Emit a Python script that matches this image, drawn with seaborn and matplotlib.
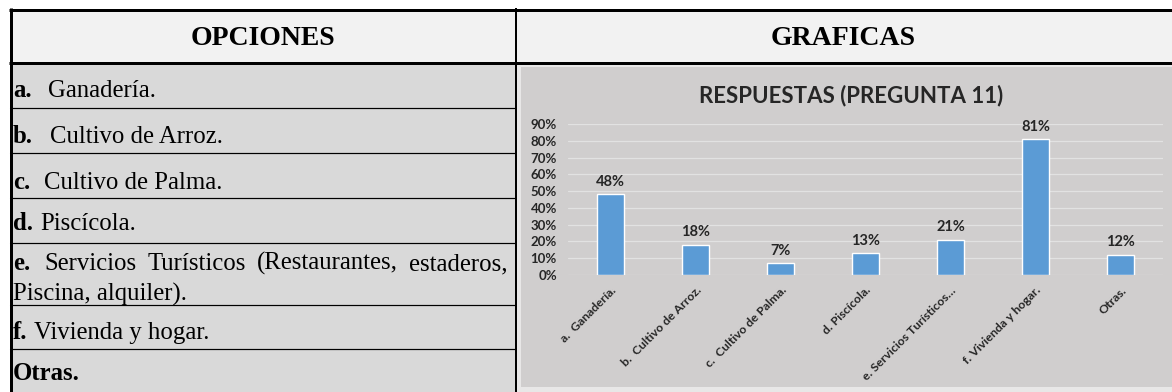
import matplotlib
matplotlib.use("Agg")
import matplotlib.pyplot as plt
import seaborn as sns
import pandas as pd

# Survey answers (question 11)
categorias = ["a.  Ganadería.", "b.  Cultivo de Arroz.", "c.  Cultivo de Palma.",
              "d. Piscícola.", "e. Servicios Turísticos…", "f. Vivienda y hogar.", "Otras."]
porcentajes = [0.48, 0.18, 0.07, 0.13, 0.21, 0.81, 0.12]
y_ticks = [0.0, 0.1, 0.2, 0.3, 0.4, 0.5, 0.6, 0.7, 0.8, 0.9]

# Options column of the table: bold prefix + text lines
opciones_prefijo = ["a.", "b.", "c.", "d.", "e.", "f.", "Otras."]
opciones_texto = ["Ganadería.", "Cultivo de Arroz.", "Cultivo de Palma.", "Piscícola.",
                  "Servicios Turísticos (Restaurantes, estaderos,", "Vivienda y hogar.", ""]
opcion_e_linea2 = "Piscina, alquiler)."
encabezados = ["OPCIONES", "GRAFICAS"]

W, H = 1172, 392
sns.set_theme(style="white")
plt.rcParams["font.family"] = ["Liberation Serif", "DejaVu Serif"]

fig = plt.figure(figsize=(W / 100, H / 100), dpi=100)
fig.patch.set_facecolor("white")

# Table drawn in pixel coordinates (y grows downward)
tab = fig.add_axes([0, 0, 1, 1], zorder=0)
tab.set_xlim(0, W)
tab.set_ylim(H, 0)
tab.axis("off")

def rect(x0, y0, x1, y1, color, z=0):
    tab.add_patch(plt.Rectangle((x0, y0), x1 - x0, y1 - y0, facecolor=color,
                                edgecolor="none", zorder=z))

rect(10, 10, W, 62, "#f2f2f2")
rect(10, 62, 515, H, "#d9d9d9")
rect(516, 63, W, H, "#e8e7e7")
rect(521, 67, W, 387, "#d0cece", z=0.5)

lw_px = lambda px: px * 72 / 100
tab.plot([9, W], [9.5, 9.5], color="black", lw=lw_px(3), solid_capstyle="butt", zorder=3)
tab.plot([10.5, 10.5], [8, H], color="black", lw=lw_px(3), solid_capstyle="butt", zorder=3)
tab.plot([9, W], [62.5, 62.5], color="black", lw=lw_px(3), solid_capstyle="butt", zorder=3)
tab.plot([515.5, 515.5], [8, H], color="black", lw=lw_px(2), solid_capstyle="butt", zorder=3)
for yl in [108, 153, 198, 243, 305, 349]:
    tab.plot([10, 515], [yl, yl], color="black", lw=lw_px(1.2), zorder=3)

tab.text(263, 38, encabezados[0], ha="center", va="center", fontsize=20,
         fontweight="bold", color="black")
tab.text(843, 38, encabezados[1], ha="center", va="center", fontsize=20,
         fontweight="bold", color="black")

fs_row = 17.8
row_y = [97, 143, 189, 230, 270, 339, 380]
# spacing (points) between the bold letter and the option text
row_gap = [12, 12, 10, 5, 10, 5, 0]
fig.canvas.draw()
renderer = fig.canvas.get_renderer()
for i, (pre, txt) in enumerate(zip(opciones_prefijo, opciones_texto)):
    t = tab.text(13, row_y[i], pre, ha="left", va="baseline", fontsize=fs_row,
                 fontweight="bold", color="black")
    if i == 4:
        # justified first line spanning the cell width
        words = txt.split(" ")
        t_bb = t.get_window_extent(renderer)
        x_start = t_bb.x1 + row_gap[i] * 100 / 72
        x_end = 508
        arts = []
        for w in words:
            a = tab.text(0, row_y[i], w, ha="left", va="baseline", fontsize=fs_row,
                         color="black")
            arts.append(a)
        widths = [a.get_window_extent(renderer).width for a in arts]
        gap = (x_end - x_start - sum(widths)) / (len(words) - 1)
        xpos = x_start
        for a, wd in zip(arts, widths):
            a.set_x(xpos)
            xpos += wd + gap
        tab.text(13, row_y[i] + 31, opcion_e_linea2, ha="left", va="baseline",
                 fontsize=fs_row, color="black")
    elif txt:
        tab.annotate(txt, xy=(1, 0), xycoords=t, xytext=(row_gap[i], 0),
                     textcoords="offset points", ha="left", va="bottom",
                     fontsize=fs_row, color="black")

# Bar chart embedded in the right cell
chart_font = ["Lato", "DejaVu Sans"]
left, right, top, bottom = 568, 1163, 124, 275
ax = fig.add_axes([left / W, 1 - bottom / H, (right - left) / W, (bottom - top) / H],
                  zorder=2)
df = pd.DataFrame({"categoria": categorias, "porcentaje": porcentajes})
sns.barplot(data=df, x="categoria", y="porcentaje", color="#5b9bd5", saturation=1,
            width=0.32, ax=ax)
ax.set_facecolor("none")
ax.set_ylim(0, 0.9)
ax.set_yticks(y_ticks)
ax.set_yticklabels([f"{int(round(v * 100))}%" for v in y_ticks],
                   fontsize=9.5, fontweight="bold", family=chart_font, color="#262626")
ax.yaxis.grid(True, color="#e2e2e2", lw=0.9)
ax.set_axisbelow(True)
for s in ax.spines.values():
    s.set_visible(False)
ax.tick_params(axis="y", length=0, pad=8)
ax.tick_params(axis="x", length=0, pad=7)
ax.set_xlabel("")
ax.set_ylabel("")
ax.set_xticks(range(len(categorias)))
ax.set_xticklabels(categorias, rotation=45, ha="right", rotation_mode="anchor",
                   fontsize=8.8, fontweight="bold", family=chart_font, color="#262626")
for i, v in enumerate(porcentajes):
    ax.annotate(f"{int(round(v * 100))}%", xy=(i, v), xytext=(0, 4),
                textcoords="offset points", ha="center", va="bottom",
                fontsize=10.5, fontweight="bold", family=chart_font, color="#262626")

fig.text(851 / W, 1 - 96 / H, "RESPUESTAS (PREGUNTA 11)", ha="center", va="center",
         fontsize=16, fontweight="bold", family=chart_font, color="#262626", zorder=3)

fig.savefig("out.png", dpi=100, facecolor=fig.get_facecolor())
